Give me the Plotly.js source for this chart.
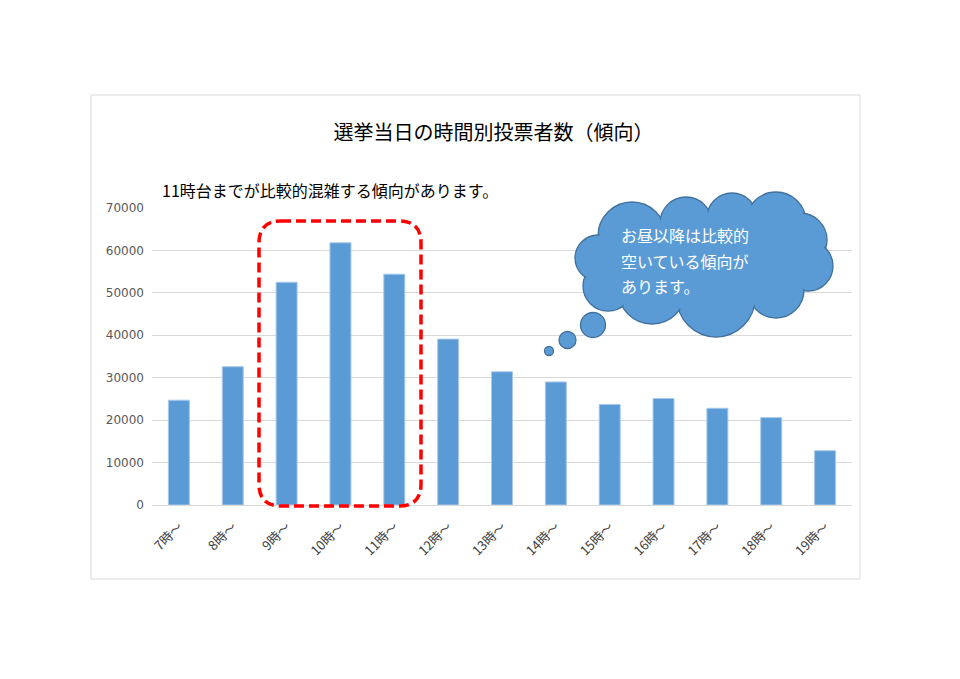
<!DOCTYPE html>
<html>
<head>
<meta charset="utf-8">
<script src="https://cdn.plot.ly/plotly-3.0.1.min.js"></script>
<style>html,body{margin:0;padding:0;background:#fff;}#chart{width:960px;height:679px;}</style>
</head>
<body>
<div id="chart"></div>
<script>
// ---- data ----
const categories = ["7時～","8時～","9時～","10時～","11時～","12時～","13時～","14時～","15時～","16時～","17時～","18時～","19時～"];
const voters = [24700, 32600, 52500, 61800, 54400, 39100, 31400, 29000, 23700, 25100, 22800, 20600, 12800];
const yTicks = [0, 10000, 20000, 30000, 40000, 50000, 60000, 70000];
const titleText = "選挙当日の時間別投票者数（傾向）";
const noteText = "11時台までが比較的混雑する傾向があります。";
const cloudLines = ["お昼以降は比較的", "空いている傾向が", "あります。"];

// ---- layout geometry (page pixels) ----
const W = 960, H = 679;
const plotL = 152, plotR = 852, plotT = 208, plotB = 505;
const px = x => x - plotL;          // pixel offset from plot-left
const py = y => plotB - y;          // pixel offset up from plot-bottom
const pfx = x => (x - plotL) / (plotR - plotL);
const pfy = y => (plotB - y) / (plotB - plotT);

function pixShape(o) {
  return Object.assign({xref: 'paper', yref: 'paper', xsizemode: 'pixel', ysizemode: 'pixel', xanchor: 0, yanchor: 0}, o);
}
function circle(cx, cy, rx, ry, fill, line) {
  return pixShape({type: 'circle', x0: px(cx - rx), x1: px(cx + rx), y0: py(cy + ry), y1: py(cy - ry),
    fillcolor: fill, line: line || {width: 0}});
}

const shapes = [];
// outer chart frame
shapes.push(pixShape({type: 'rect', x0: px(91), x1: px(860), y0: py(579), y1: py(95),
  line: {color: '#d9d9d9', width: 1}, fillcolor: 'rgba(0,0,0,0)', layer: 'below'}));

// red dashed rounded rectangle
(function () {
  const L = 259, R = 421, T = 221, B = 506, r = 22;
  const P = (x, y) => px(x) + ',' + py(y);
  const d = 'M' + P(L + r, T) + ' L' + P(R - r, T) + ' Q' + P(R, T) + ' ' + P(R, T + r) +
    ' L' + P(R, B - r) + ' Q' + P(R, B) + ' ' + P(R - r, B) +
    ' L' + P(L + r, B) + ' Q' + P(L, B) + ' ' + P(L, B - r) +
    ' L' + P(L, T + r) + ' Q' + P(L, T) + ' ' + P(L + r, T) + ' Z';
  shapes.push(pixShape({type: 'path', path: d, line: {color: '#ff0000', width: 3.5, dash: '10px,5px'},
    fillcolor: 'rgba(0,0,0,0)'}));
})();

// thought cloud
const cloudFill = '#5b9bd5', cloudLine = {color: '#41719c', width: 1.3};
const lobes = [
  [632, 236, 34], [686, 223, 26], [732, 218, 25], [776, 222, 30],
  [800, 240, 27], [808, 266, 25], [776, 290, 28], [716, 298, 39],
  [652, 290, 34], [608, 286, 25], [598, 258, 23]
];
lobes.forEach(l => shapes.push(circle(l[0], l[1], l[2], l[2], cloudFill, cloudLine)));
lobes.forEach(l => shapes.push(circle(l[0], l[1], l[2] - 1.6, l[2] - 1.6, cloudFill)));
shapes.push(circle(705, 262, 92, 48, cloudFill));
// bubbles
[[593, 325, 12.5], [567.5, 340, 8.5], [549, 351, 4.5]].forEach(b =>
  shapes.push(circle(b[0], b[1], b[2], b[2], cloudFill, cloudLine)));

const jp = '"Noto Sans CJK JP", "Noto Sans", sans-serif';
const annotations = [
  {xref: 'paper', yref: 'paper', x: pfx(160), y: pfy(190), xanchor: 'left', yanchor: 'middle',
   text: noteText, showarrow: false, font: {family: jp, size: 16, color: '#000'}}
];
const cloudY = [235, 261, 286];
cloudLines.forEach((t, i) => annotations.push({xref: 'paper', yref: 'paper', x: pfx(619), y: pfy(cloudY[i]),
  xanchor: 'left', yanchor: 'middle', text: t, showarrow: false, font: {family: jp, size: 16, color: '#ffffff'}}));

const trace = {
  type: 'bar', x: categories, y: voters, width: 0.39,
  marker: {color: '#5b9bd5', line: {color: '#a9c9ea', width: 1}},
  hoverinfo: 'skip'
};

const layout = {
  width: W, height: H,
  margin: {l: plotL, r: W - plotR, t: plotT, b: H - plotB, pad: 0},
  paper_bgcolor: '#fff', plot_bgcolor: '#fff',
  showlegend: false,
  title: {text: titleText, font: {family: jp, size: 20, color: '#000'},
          xref: 'container', yref: 'container', x: 493.5 / W, y: 1 - 133 / H, xanchor: 'center', yanchor: 'middle'},
  xaxis: {type: 'category', tickangle: -45, showgrid: false, showline: true, linecolor: '#d9d9d9', linewidth: 1,
          ticks: '', ticklabelstandoff: 8, tickfont: {family: jp, size: 13, color: '#404040'}, fixedrange: true},
  yaxis: {range: [0, 70000], tickvals: yTicks, ticktext: yTicks.map(String), showgrid: true, gridcolor: '#d9d9d9',
          gridwidth: 1, zeroline: false, showline: false, ticks: '', ticklabelstandoff: 7,
          tickfont: {family: 'DejaVu Sans, sans-serif', size: 12, color: '#595959'}, fixedrange: true},
  shapes: shapes,
  annotations: annotations,
  bargap: 0.6
};

Plotly.newPlot('chart', [trace], layout, {displayModeBar: false, staticPlot: true});
</script>
</body>
</html>
